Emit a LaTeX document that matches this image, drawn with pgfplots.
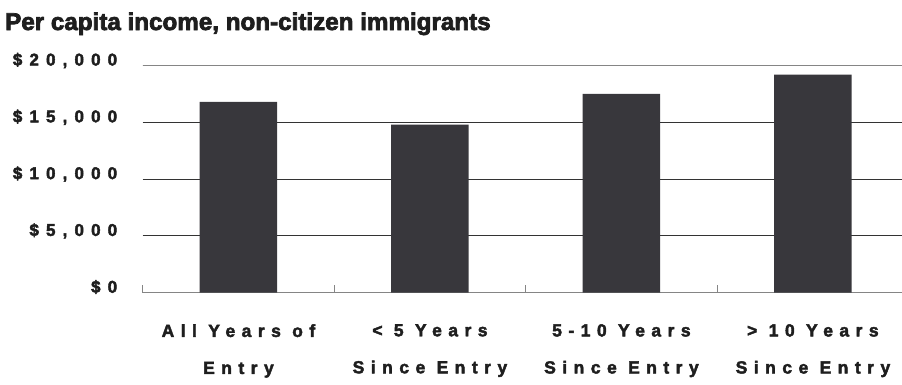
\documentclass[border=0pt]{standalone}
\usepackage{fontspec}
\usepackage{pgfplots}
\pgfplotsset{compat=1.18}
\newfontfamily\xtickfont[LetterSpace=37,FakeBold=2.5]{Liberation Sans Bold}
\newfontfamily\ytickfont[LetterSpace=42,FakeBold=2.5]{Liberation Sans Bold}
\newfontfamily\titlefont[FakeBold=3]{Liberation Sans Bold}
\definecolor{barc}{HTML}{38373C}
\definecolor{txt}{HTML}{1E1E1E}
\definecolor{axc}{HTML}{858585}
\definecolor{gridc}{HTML}{333333}
\begin{document}
\begin{tikzpicture}
\useasboundingbox (-142.7pt,-91.3pt) rectangle (759.3pt,292.7pt);
\begin{axis}[
  at={(0,0)}, anchor=south west,
  scale only axis, width=766pt, height=227.2pt,
  xmin=-0.5, xmax=3.5, ymin=0, ymax=20000,
  separate axis lines,
  x axis line style={draw=axc, line width=1.3pt},
  y axis line style={draw=none},
  ytick={0,5000,10000,15000,20000},
  yticklabels={{\$0},{\$5,000},{\$10,000},{\$15,000},{\$20,000}},
  ymajorgrids, grid style={draw=gridc, line width=0.9pt},
  xtick={0,1,2,3},
  xticklabels={{All Years of\\Entry},{< 5 Years\\Since Entry},{5-10 Years\\Since Entry},{> 10 Years\\Since Entry}},
  minor xtick={-0.5,0.5,1.5,2.5},
  major tick length=0pt, minor tick length=8pt, tick align=inside,
  xtick pos=bottom, ytick pos=left,
  tick style={draw=axc, line width=1pt},
  yticklabel style={font=\ytickfont\fontsize{17}{20}\selectfont, text=txt, anchor=base east, xshift=-22pt},
  xticklabel style={font=\xtickfont\fontsize{17.5}{37}\selectfont, text=txt, align=center, anchor=north, yshift=-28pt},
  scaled y ticks=false,
]
\addplot[ybar, bar width=77.5pt, fill=barc, draw=none] coordinates {(0,16800) (1,14800) (2,17500) (3,19200)};
\end{axis}
\node[anchor=base west, inner sep=0pt, text=txt, font=\titlefont\fontsize{24.2}{28}\selectfont] at (-137.7pt,262.7pt) {Per capita income, non-citizen immigrants};
\end{tikzpicture}
\end{document}
